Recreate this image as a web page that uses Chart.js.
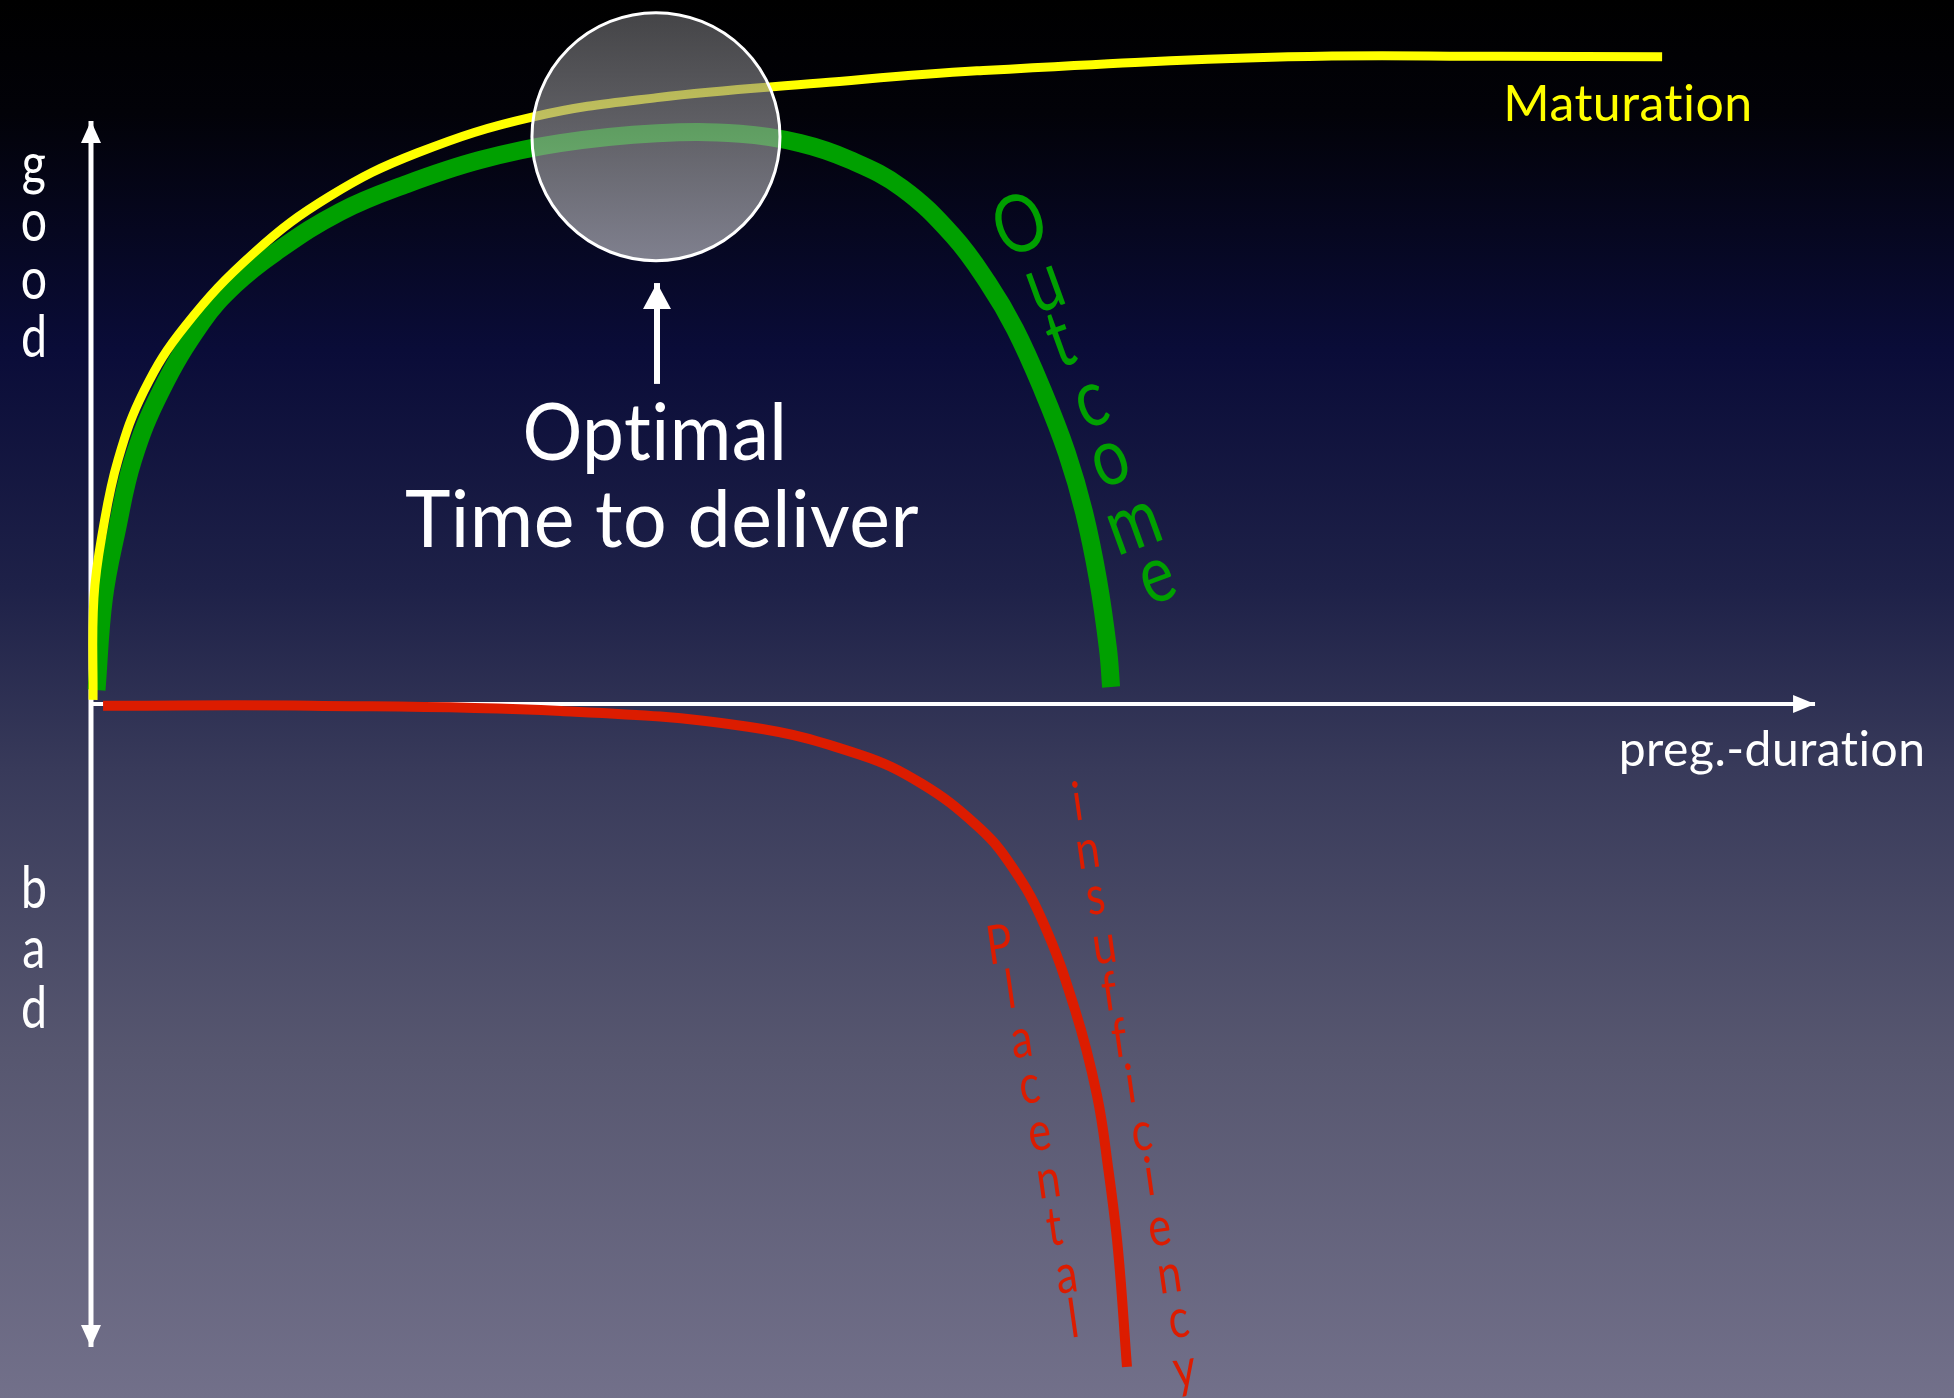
<!DOCTYPE html>
<html>
<head>
<meta charset="utf-8">
<title>Optimal time to deliver</title>
<script src="https://cdn.jsdelivr.net/npm/chart.js@4.4.1/dist/chart.umd.min.js"></script>
<style>
  html, body { margin: 0; padding: 0; background: #000; overflow: hidden; }
  #wrap { width: 1954px; height: 1398px; }
</style>
</head>
<body>
<div id="wrap"><canvas id="chart" width="1954" height="1398"></canvas></div>
<script>
// x = pregnancy duration (0 at the vertical axis, 100 at the arrow tip)
// y = outcome (+ good / - bad)
const maturationX = [0.12, 0.17, 0.70, 1.57, 3.07, 5.45, 9.46, 13.86, 18.91, 25.64, 32.83, 42.29, 51.39, 69.43, 81.73, 91.13];
const maturationY = [0.7, 18.2, 30.0, 41.9, 53.7, 64.8, 77.4, 87.1, 94.5, 100.7, 104.0, 106.5, 108.6, 111.0, 111.1, 111.0];

const outcomeX = [0.32, 0.75, 1.51, 2.44, 4.06, 6.44, 8.35, 10.67, 14.44, 18.33, 22.56, 27.20, 32.83, 37.65, 41.13, 44.03, 47.04, 50.00, 52.03, 53.60, 55.22, 56.61, 57.60, 58.41, 58.99, 59.17];
const outcomeY = [2.4, 18.2, 30.0, 41.9, 53.7, 65.5, 71.9, 77.4, 84.4, 89.2, 93.3, 96.2, 97.9, 97.8, 96.2, 93.3, 88.5, 80.3, 72.2, 64.3, 53.7, 43.0, 32.9, 21.3, 9.4, 2.9];

const placentaX = [0.70, 12.76, 27.26, 38.11, 44.61, 48.20, 51.33, 53.19, 55.16, 57.08, 58.35, 58.99, 59.57, 60.09];
const placentaY = [-0.3, -0.3, -1.2, -3.9, -8.7, -13.7, -20.7, -26.9, -37.0, -52.5, -67.1, -79.4, -93.6, -113.7];

// axes and the "optimal" marker
const yAxisX = [0, 0];
const yAxisY = [-110.3, 100];
const xAxisX = [0, 100];
const xAxisY = [0, 0];
const optimalX = [32.83, 32.83];
const optimalY = [54.9, 72.2];
const optimumX = 32.77;
const optimumY = 97.3;

// stacked letters
const goodLetters = ['g', 'o', 'o', 'd'];
const goodY = [89.2, 79.4, 69.5, 59.5];
const badLetters = ['b', 'a', 'd'];
const badY = [-35.0, -45.3, -55.6];

const outcomeLetters = ['O', 'u', 't', 'c', 'o', 'm', 'e'];
const outcomeLx = [54.41, 55.80, 56.73, 58.47, 59.57, 60.96, 62.30];
const outcomeLy = [77.9, 67.9, 58.2, 47.9, 37.9, 26.9, 17.8];

const placentalLetters = ['P', 'l', 'a', 'c', 'e', 'n', 't', 'a', 'l'];
const placentalLx = [52.84, 53.48, 54.12, 54.58, 55.16, 55.68, 56.03, 56.73, 57.13];
const placentalLy = [-44.4, -52.1, -60.5, -68.4, -76.5, -84.6, -92.8, -100.9, -108.6];

const insuffLetters = ['i', 'n', 's', 'u', 'f', 'f', 'i', 'c', 'i', 'e', 'n', 'c', 'y'];
const insuffLx = [57.37, 57.95, 58.41, 58.93, 59.22, 59.80, 60.44, 61.08, 61.54, 62.12, 62.70, 63.23, 63.57];
const insuffLy = [-19.9, -28.1, -36.0, -44.4, -52.5, -60.5, -68.3, -76.5, -84.2, -92.8, -100.9, -108.6, -117.1];

const FONT = 'Lato, "Noto Sans", sans-serif';
const toPts = (xs, ys) => xs.map((x, i) => ({ x, y: ys[i] }));

// text annotations, anchored in data units
const labels = [
  { text: 'Optimal', x: 32.71, y: 41.8, size: 80, color: '#ffffff', maxW: 265 },
  { text: 'Time to deliver', x: 33.12, y: 26.9, size: 80, color: '#ffffff', maxW: 514 },
  { text: 'Maturation', x: 89.15, y: 100.0, size: 50, color: '#ffff00', maxW: 257 },
  { text: 'preg.-duration', x: 97.51, y: -10.6, size: 48, color: '#ffffff', maxW: 330 },
];
goodLetters.forEach((t, i) => labels.push({ text: t, x: -3.3, y: goodY[i], size: 58, color: '#ffffff', sx: 0.8 }));
badLetters.forEach((t, i) => labels.push({ text: t, x: -3.3, y: badY[i], size: 58, color: '#ffffff', sx: 0.8 }));
outcomeLetters.forEach((t, i) => labels.push({ text: t, x: outcomeLx[i], y: outcomeLy[i], size: 80, color: '#00a000', sx: 0.8, rot: -20 }));
placentalLetters.forEach((t, i) => labels.push({ text: t, x: placentalLx[i], y: placentalLy[i], size: 54, color: '#dc1c00', sx: 0.8, rot: -8 }));
insuffLetters.forEach((t, i) => labels.push({ text: t, x: insuffLx[i], y: insuffLy[i], size: 54, color: '#dc1c00', sx: 0.8, rot: -8 }));

const backgroundPlugin = {
  id: 'bg',
  beforeDraw(chart) {
    const { ctx, width, height } = chart;
    const g = ctx.createLinearGradient(0, 0, 0, height);
    g.addColorStop(0, '#000000');
    g.addColorStop(0.08, '#020208');
    g.addColorStop(0.25, '#0a0c38');
    g.addColorStop(0.42, '#1e2148');
    g.addColorStop(0.55, '#383a5a');
    g.addColorStop(0.75, '#56566f');
    g.addColorStop(1, '#72708a');
    ctx.save();
    ctx.fillStyle = g;
    ctx.fillRect(0, 0, width, height);
    ctx.restore();
  }
};

// arrow heads on the ends of datasets that ask for them
const arrowPlugin = {
  id: 'arrows',
  afterDatasetsDraw(chart) {
    const ctx = chart.ctx;
    chart.data.datasets.forEach((ds, i) => {
      if (!ds.arrowHeads) return;
      const pts = chart.getDatasetMeta(i).data;
      const { ends, len, width, color } = ds.arrowHeads;
      ends.forEach(end => {
        const tip = end === 'end' ? pts[pts.length - 1] : pts[0];
        const prev = end === 'end' ? pts[pts.length - 2] : pts[1];
        const a = Math.atan2(tip.y - prev.y, tip.x - prev.x);
        ctx.save();
        ctx.translate(tip.x, tip.y);
        ctx.rotate(a);
        ctx.beginPath();
        ctx.moveTo(0, 0);
        ctx.lineTo(-len, -width / 2);
        ctx.lineTo(-len, width / 2);
        ctx.closePath();
        ctx.fillStyle = color;
        ctx.fill();
        ctx.restore();
      });
    });
  }
};

const labelPlugin = {
  id: 'labels',
  afterDraw(chart) {
    const { ctx, scales: { x, y } } = chart;
    labels.forEach(l => {
      ctx.save();
      ctx.translate(x.getPixelForValue(l.x), y.getPixelForValue(l.y));
      if (l.rot) ctx.rotate(l.rot * Math.PI / 180);
      if (l.sx) ctx.scale(l.sx, 1);
      ctx.font = `${l.size}px ${FONT}`;
      ctx.letterSpacing = '0.5px'; // keeps Lato from joining "ti"
      ctx.fillStyle = l.color;
      ctx.textAlign = 'center';
      ctx.textBaseline = 'alphabetic';
      if (l.maxW) ctx.fillText(l.text, 0, 0, l.maxW);
      else ctx.fillText(l.text, 0, 0);
      ctx.restore();
    });
  }
};

const circleFill = (c) => {
  const chart = c.chart;
  if (!chart.chartArea || !c.parsed) return 'rgba(150,150,155,0.6)';
  const cy = chart.scales.y.getPixelForValue(c.parsed.y);
  const g = chart.ctx.createLinearGradient(0, cy - 124, 0, cy + 124);
  g.addColorStop(0, 'rgba(110,110,114,0.62)');
  g.addColorStop(1, 'rgba(208,208,212,0.6)');
  return g;
};

const lineDs = (label, xs, ys, color, w, order) => ({
  label, data: toPts(xs, ys), showLine: true, borderColor: color, borderWidth: w,
  pointRadius: 0, tension: 0.4, fill: false, order
});

new Chart(document.getElementById('chart'), {
  type: 'scatter',
  data: {
    datasets: [
      { label: 'Optimum', data: toPts([optimumX], [optimumY]), pointRadius: 124, pointHoverRadius: 124,
        pointBackgroundColor: circleFill, pointBorderColor: '#ffffff', pointBorderWidth: 3, order: 1, clip: false },
      { ...lineDs('Optimal', optimalX, optimalY, '#ffffff', 6, 0),
        arrowHeads: { ends: ['end'], len: 26, width: 28, color: '#ffffff' } },
      lineDs('Maturation', maturationX, maturationY, '#ffff00', 9, 2),
      lineDs('Outcome', outcomeX, outcomeY, '#00a000', 18, 3),
      lineDs('Placental insufficiency', placentaX, placentaY, '#dc1c00', 10, 4),
      { ...lineDs('x axis', xAxisX, xAxisY, '#ffffff', 4, 5),
        arrowHeads: { ends: ['end'], len: 22, width: 18, color: '#ffffff' } },
      { ...lineDs('y axis', yAxisX, yAxisY, '#ffffff', 5, 6),
        arrowHeads: { ends: ['start', 'end'], len: 22, width: 20, color: '#ffffff' } },
    ]
  },
  options: {
    responsive: false,
    animation: false,
    events: [],
    layout: { padding: 0, autoPadding: false },
    plugins: { legend: { display: false }, tooltip: { enabled: false } },
    scales: {
      x: { type: 'linear', display: false, min: -5.278, max: 108.06 },
      y: { type: 'linear', display: false, min: -119.04, max: 120.75 }
    }
  },
  plugins: [backgroundPlugin, arrowPlugin, labelPlugin]
});
</script>
</body>
</html>
